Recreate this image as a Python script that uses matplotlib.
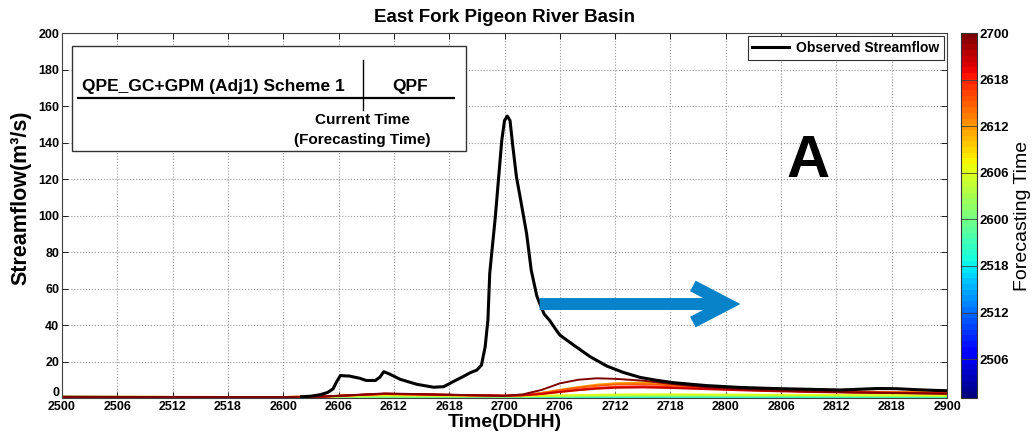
import matplotlib
matplotlib.use("Agg")
import matplotlib.pyplot as plt
import matplotlib.transforms as mtransforms
from matplotlib.patches import Rectangle, FancyArrowPatch, ArrowStyle
from matplotlib.colors import Normalize
from matplotlib.cm import ScalarMappable

plt.rcParams['font.family'] = ['Liberation Sans', 'DejaVu Sans']

# ---------------- data ----------------
# x axis: hours since 25 00 (DDHH); tick labels in DDHH form
tick_hours = [0, 6, 12, 18, 24, 30, 36, 42, 48, 54, 60, 66, 72, 78, 84, 90, 96]
tick_labels = ['2500', '2506', '2512', '2518', '2600', '2606', '2612', '2618',
               '2700', '2706', '2712', '2718', '2800', '2806', '2812', '2818', '2900']

# observed streamflow (m3/s)
obs_hours = [26.0, 27.0, 28.0, 28.8, 29.4, 29.8, 30.2, 31.2, 32.3, 33.0, 34.0, 34.5,
             34.9, 35.5, 36.7, 38.5, 40.3, 41.4, 42.4, 43.5, 44.3, 45.0, 45.5, 45.9,
             46.2, 46.4, 47.0, 47.7, 48.0, 48.3, 48.6, 48.9, 49.3, 49.7, 50.4, 50.9,
             51.5, 51.8, 52.3, 52.9, 53.5, 54.0, 55.5, 57.3, 59.1, 60.9, 62.7, 64.5,
             66.3, 69.9, 73.5, 77.1, 80.8, 84.4, 86.5, 88.5, 90.5, 92.5, 94.5, 96.0]
obs_flow = [0.7, 1.0, 1.8, 3.0, 5.0, 9.0, 12.3, 12.0, 10.8, 9.6, 9.6, 11.5,
            14.4, 13.2, 10.2, 7.5, 5.9, 6.2, 8.9, 11.7, 13.9, 15.3, 18.0, 28.0,
            42.7, 68.5, 99.0, 141.0, 152.0, 154.5, 152.0, 138.0, 121.0, 110.0, 90.0, 70.0,
            56.0, 52.0, 46.0, 42.5, 38.0, 34.5, 29.0, 22.6, 17.5, 14.0, 11.3, 9.7,
            8.4, 6.8, 5.8, 5.2, 4.8, 4.4, 4.8, 5.2, 5.1, 4.6, 4.2, 4.0]

# simulated streamflow for each forecasting time (hours since 25 00)
fc_hours = [0, 24, 28, 31, 35, 39, 44, 48, 50, 52, 54, 56, 58, 60, 63, 66, 70, 75, 80, 85, 90, 96]
issue_hours = [3, 6, 9, 12, 15, 18, 21, 24, 27, 30, 33, 36, 39, 42, 45, 48]
fc_flow = [
    [0.6, 0.45, 0.42, 0.40, 0.40, 0.38, 0.36, 0.35, 0.35, 0.35, 0.35, 0.35, 0.35, 0.34, 0.34, 0.34, 0.34, 0.33, 0.33, 0.33, 0.33, 0.32],
    [0.6, 0.45, 0.42, 0.40, 0.40, 0.38, 0.37, 0.36, 0.36, 0.36, 0.36, 0.36, 0.36, 0.36, 0.36, 0.36, 0.35, 0.35, 0.35, 0.35, 0.35, 0.35],
    [0.6, 0.46, 0.43, 0.41, 0.40, 0.39, 0.38, 0.38, 0.38, 0.38, 0.38, 0.38, 0.38, 0.38, 0.38, 0.38, 0.38, 0.38, 0.38, 0.37, 0.37, 0.37],
    [0.6, 0.47, 0.44, 0.42, 0.41, 0.40, 0.40, 0.40, 0.40, 0.40, 0.40, 0.40, 0.40, 0.40, 0.40, 0.40, 0.40, 0.40, 0.40, 0.40, 0.40, 0.40],
    [0.6, 0.48, 0.45, 0.44, 0.43, 0.42, 0.42, 0.42, 0.42, 0.42, 0.42, 0.42, 0.42, 0.42, 0.42, 0.42, 0.42, 0.42, 0.42, 0.42, 0.42, 0.42],
    [0.6, 0.50, 0.47, 0.46, 0.45, 0.45, 0.45, 0.45, 0.45, 0.45, 0.46, 0.46, 0.46, 0.46, 0.46, 0.46, 0.46, 0.46, 0.46, 0.46, 0.45, 0.45],
    [0.6, 0.52, 0.50, 0.50, 0.52, 0.55, 0.58, 0.60, 0.62, 0.65, 0.68, 0.70, 0.72, 0.74, 0.75, 0.76, 0.76, 0.75, 0.74, 0.72, 0.70, 0.68],
    [0.6, 0.55, 0.55, 0.60, 0.70, 0.75, 0.80, 0.85, 0.90, 0.95, 1.00, 1.05, 1.10, 1.15, 1.20, 1.20, 1.20, 1.15, 1.10, 1.05, 1.00, 0.95],
    [0.6, 0.55, 0.60, 0.80, 1.00, 1.00, 0.95, 0.95, 1.00, 1.10, 1.20, 1.30, 1.40, 1.50, 1.55, 1.60, 1.60, 1.55, 1.50, 1.40, 1.35, 1.30],
    [0.6, 0.55, 0.70, 1.20, 1.60, 1.40, 1.10, 1.00, 1.05, 1.20, 1.40, 1.60, 1.80, 1.90, 2.00, 2.00, 1.90, 1.80, 1.70, 1.60, 1.50, 1.35],
    [0.6, 0.55, 0.70, 1.40, 2.00, 1.70, 1.30, 1.10, 1.30, 2.00, 3.20, 4.30, 5.20, 5.80, 6.00, 5.80, 5.20, 4.50, 3.90, 3.50, 3.20, 2.90],
    [0.6, 0.55, 0.70, 1.40, 2.20, 1.80, 1.40, 1.20, 1.60, 2.80, 4.50, 6.00, 7.30, 8.10, 8.40, 7.50, 6.20, 5.00, 4.20, 3.70, 3.30, 3.00],
    [0.6, 0.55, 0.70, 1.40, 2.20, 1.90, 1.40, 1.20, 1.60, 2.70, 4.20, 5.60, 6.70, 7.40, 7.60, 7.00, 5.90, 4.80, 4.00, 3.50, 3.20, 2.90],
    [0.6, 0.55, 0.70, 1.40, 2.30, 2.00, 1.50, 1.20, 1.50, 2.30, 3.50, 4.60, 5.50, 6.10, 6.40, 6.00, 5.20, 4.30, 3.70, 3.20, 2.90, 2.60],
    [0.6, 0.55, 0.70, 1.40, 2.30, 2.00, 1.60, 1.30, 1.50, 2.20, 3.30, 4.30, 5.10, 5.60, 5.80, 5.50, 4.80, 4.00, 3.40, 3.00, 2.70, 2.40],
    [0.6, 0.55, 0.75, 1.50, 2.50, 2.10, 1.60, 1.20, 2.00, 4.40, 8.00, 10.0, 10.8, 10.5, 9.50, 7.80, 5.80, 4.50, 3.70, 3.20, 2.80, 2.30],
]

# colorbar: forecasting time, 25 01 .. 27 00
cbar_range = (1, 48)
cbar_ticks = [6, 12, 18, 24, 30, 36, 42, 48]
cbar_labels = ['2506', '2512', '2518', '2600', '2606', '2612', '2618', '2700']

# current-time arrow (hours, m3/s)
arrow_start = (51.8, 51.5)
arrow_end = (73.6, 51.5)

# ---------------- figure ----------------
fig = plt.figure(figsize=(10.32, 4.38), dpi=100)
ax = fig.add_axes([0.06008, 0.09132, 0.85756, 0.83333])
cax = fig.add_axes([0.93120, 0.09132, 0.0155, 0.83333])

cmap = plt.get_cmap('jet', 64)
norm = Normalize(*cbar_range)

for f, flow in zip(issue_hours, fc_flow):
    ax.plot(fc_hours, flow, color=cmap(norm(f)), lw=1.4, zorder=2)

ax.plot(obs_hours, obs_flow, color='black', lw=2.2, zorder=4,
        label='Observed Streamflow')

ax.set_xlim(0, 96)
ax.set_ylim(0, 200)
ax.set_xticks(tick_hours)
ax.set_xticklabels(tick_labels)
ax.set_yticks(range(0, 201, 20))
ax.tick_params(direction='in', top=True, right=True, length=4, width=0.6,
               labelsize=9, pad=2)
for lbl in ax.get_xticklabels() + ax.get_yticklabels():
    lbl.set_fontweight('bold')
# lift the "0" label so it sits just above the first x label
zero_lbl = ax.get_yticklabels()[0]
zero_lbl.set_transform(zero_lbl.get_transform() +
                       mtransforms.ScaledTranslation(0, 5 / 72, fig.dpi_scale_trans))
ax.grid(True, linestyle=':', color='0.6', linewidth=0.8)
ax.set_axisbelow(True)
for sp in ax.spines.values():
    sp.set_color('0.25')
    sp.set_linewidth(0.8)

ax.set_title('East Fork Pigeon River Basin', fontsize=13.5, fontweight='bold', pad=8)
ax.set_xlabel('Time(DDHH)', fontsize=14, fontweight='bold', labelpad=1)
ax.set_ylabel('Streamflow(m³/s)', fontsize=15.5, fontweight='bold')
ax.yaxis.set_label_coords(-0.035, 0.55)

leg = ax.legend(loc='upper right', fancybox=False, edgecolor='0.2', framealpha=1,
                prop={'weight': 'bold', 'size': 10}, handlelength=2.6,
                handletextpad=0.5, borderpad=0.35, borderaxespad=0.25)
leg.get_frame().set_linewidth(0.8)

# scheme sketch box
ax.add_patch(Rectangle((0.011, 0.6775), 0.4455, 0.2869, transform=ax.transAxes,
                       facecolor='white', edgecolor='0.2', lw=1.0, zorder=5))
ax.plot([0.0173, 0.444], [0.8227, 0.8227], transform=ax.transAxes,
        color='black', lw=1.6, zorder=6, solid_capstyle='butt')
ax.plot([0.3404, 0.3404], [0.789, 0.9268], transform=ax.transAxes,
        color='black', lw=1.0, zorder=6)
ax.text(0.1706, 0.8529, 'QPE_GC+GPM (Adj1) Scheme 1', transform=ax.transAxes,
        ha='center', va='center', fontsize=12.5, fontweight='bold', zorder=7)
ax.text(0.3932, 0.8529, 'QPF', transform=ax.transAxes,
        ha='center', va='center', fontsize=12.5, fontweight='bold', zorder=7)
ax.text(0.3398, 0.7616, 'Current Time', transform=ax.transAxes,
        ha='center', va='center', fontsize=11, fontweight='bold', zorder=7)
ax.text(0.3398, 0.7068, '(Forecasting Time)', transform=ax.transAxes,
        ha='center', va='center', fontsize=11, fontweight='bold', zorder=7)

# panel letter
ax.text(80.9, 121.3, 'A', ha='center', va='baseline', fontsize=43,
        fontweight='bold', zorder=7)

# forecast-direction arrow
arrow = FancyArrowPatch(arrow_start, arrow_end,
                        arrowstyle=ArrowStyle('->', head_length=25, head_width=13),
                        mutation_scale=1, shrinkA=0, shrinkB=0,
                        color='#0882C8', lw=8.6, capstyle='butt', joinstyle='miter',
                        zorder=6)
ax.add_patch(arrow)

# colorbar
sm = ScalarMappable(norm=norm, cmap=cmap)
cb = fig.colorbar(sm, cax=cax)
cb.set_ticks(cbar_ticks)
cb.set_ticklabels(cbar_labels)
cb.outline.set_linewidth(0.8)
cb.outline.set_edgecolor('0.2')
cax.tick_params(direction='in', length=11.5, width=0.6, color='0.25',
                labelsize=9.5, pad=2)
for lbl in cax.get_yticklabels():
    lbl.set_fontweight('bold')
cb.set_label('Forecasting Time', fontsize=14, labelpad=3)

fig.savefig('out.png', dpi=100)
